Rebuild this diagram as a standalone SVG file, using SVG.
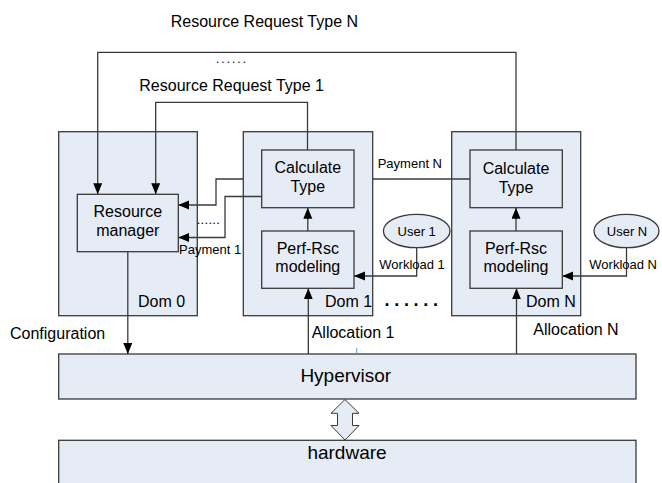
<svg xmlns="http://www.w3.org/2000/svg" width="662" height="483" viewBox="0 0 662 483">
<style>
text{font-family:"Liberation Sans",Arial,sans-serif;fill:#000}
.t16{font-size:16px}
.t13{font-size:13px}
.t19{font-size:19px}
.mid{text-anchor:middle}
.box{fill:#E6ECF6;stroke:#3a3a3a;stroke-width:1.3}
.ln{fill:none;stroke:#3a3a3a;stroke-width:1.3}
</style>
<defs>
<marker id="ah" markerUnits="userSpaceOnUse" markerWidth="12" markerHeight="10" refX="11" refY="4.5" orient="auto">
<path d="M0,0 L11,4.5 L0,9 Z" fill="#000"/>
</marker>
</defs>
<rect width="662" height="483" fill="#fff"/>

<g id="dom0"><rect class="box" x="58.7" y="131.7" width="138.6" height="184"/><text class="t16" x="138" y="306.7">Dom 0</text></g>
<g id="dom1"><rect class="box" x="243.3" y="131.7" width="129.4" height="184"/><text class="t16" x="325" y="307">Dom 1</text></g>
<g id="domN"><rect class="box" x="451.7" y="131.7" width="129" height="184"/><text class="t16" x="526" y="307">Dom N</text></g>
<g id="hypervisor"><rect class="box" x="58.7" y="354" width="577.3" height="45"/><text class="t19 mid" x="345.8" y="382">Hypervisor</text></g>
<g id="hardware"><rect class="box" x="58.7" y="440.3" width="577.3" height="50"/><text class="t19 mid" x="347" y="459.3">hardware</text></g>

<g id="connectors">
<polyline class="ln" points="516,150 516,52.3 97.7,52.3 97.7,194.3" marker-end="url(#ah)"/>
<polyline class="ln" points="307.5,150 307.5,102.3 155.7,102.3 155.7,194.3" marker-end="url(#ah)"/>
<line class="ln" x1="470" y1="179" x2="372.7" y2="179"/>
<polyline class="ln" points="243.3,179 216,179 216,205 178.3,205" marker-end="url(#ah)"/>
<polyline class="ln" points="261.7,196.5 225,196.5 225,237.5 178.3,237.5" marker-end="url(#ah)"/>
<line class="ln" x1="307.8" y1="231" x2="307.8" y2="207.7" marker-end="url(#ah)"/>
<line class="ln" x1="516" y1="231" x2="516" y2="207.7" marker-end="url(#ah)"/>
<polyline class="ln" points="416.7,247.7 416.7,276 354,276" marker-end="url(#ah)"/>
<polyline class="ln" points="626.5,247.7 626.5,276 562.3,276" marker-end="url(#ah)"/>
<line class="ln" x1="127.8" y1="251.7" x2="127.8" y2="354" marker-end="url(#ah)"/>
<line class="ln" x1="308.3" y1="354" x2="308.3" y2="288.3" marker-end="url(#ah)"/>
<line class="ln" x1="516.5" y1="354" x2="516.5" y2="288.3" marker-end="url(#ah)"/>
<polygon points="345,399.5 359,413.3 352.5,413.3 352.5,425.5 359,425.5 345,440 331,425.5 337.5,425.5 337.5,413.3 331,413.3" fill="#E6ECF6" stroke="#3a3a3a" stroke-width="1"/>
<line x1="356.7" y1="348" x2="356.7" y2="354" stroke="#6a8fd0" stroke-width="1"/>
</g>

<g id="rm"><rect class="box" x="77.3" y="194.3" width="101" height="57.4"/><text class="t16 mid" x="127.8" y="216.7">Resource</text><text class="t16 mid" x="127.8" y="235.5">manager</text></g>
<g id="calc1"><rect class="box" x="261.7" y="150" width="92.3" height="57.7"/><text class="t16 mid" x="307.8" y="172.8">Calculate</text><text class="t16 mid" x="307.8" y="192">Type</text></g>
<g id="perf1"><rect class="box" x="261.7" y="231" width="92.3" height="57.3"/><text class="t16 mid" x="307.8" y="254">Perf-Rsc</text><text class="t16 mid" x="307.8" y="271.7">modeling</text></g>
<g id="calcN"><rect class="box" x="470" y="150" width="92.3" height="57.7"/><text class="t16 mid" x="516" y="173.5">Calculate</text><text class="t16 mid" x="516" y="192.5">Type</text></g>
<g id="perfN"><rect class="box" x="470" y="231" width="92.3" height="57.3"/><text class="t16 mid" x="516" y="253.5">Perf-Rsc</text><text class="t16 mid" x="516" y="271.7">modeling</text></g>
<g id="user1"><ellipse class="box" cx="416.7" cy="231" rx="33.3" ry="16.7"/><text class="t13 mid" x="416.7" y="235.5">User 1</text></g>
<g id="userN"><ellipse class="box" cx="626.5" cy="231" rx="32.5" ry="16.7"/><text class="t13 mid" x="627" y="235.5">User N</text></g>

<g id="labels">
<text class="t16" x="170.7" y="26.7">Resource Request Type N</text>
<text style="font-size:12px;letter-spacing:2px" x="216" y="63">......</text>
<text class="t16" x="139.3" y="90.7">Resource Request Type 1</text>
<text class="t13" x="377.7" y="168.3">Payment N</text>
<text style="font-size:13px;letter-spacing:0.3px" x="196.7" y="224">......</text>
<text class="t13" x="179" y="254.3">Payment 1</text>
<text class="t13" x="379.3" y="269">Workload 1</text>
<text class="t13" x="589.3" y="269">Workload N</text>
<text style="font-size:18px;font-weight:bold;letter-spacing:4.7px" x="384.5" y="305.5">......</text>
<text class="t16" x="10" y="339.3">Configuration</text>
<text class="t16" x="311.7" y="338">Allocation 1</text>
<text class="t16" x="533.3" y="335">Allocation N</text>
</g>
</svg>
